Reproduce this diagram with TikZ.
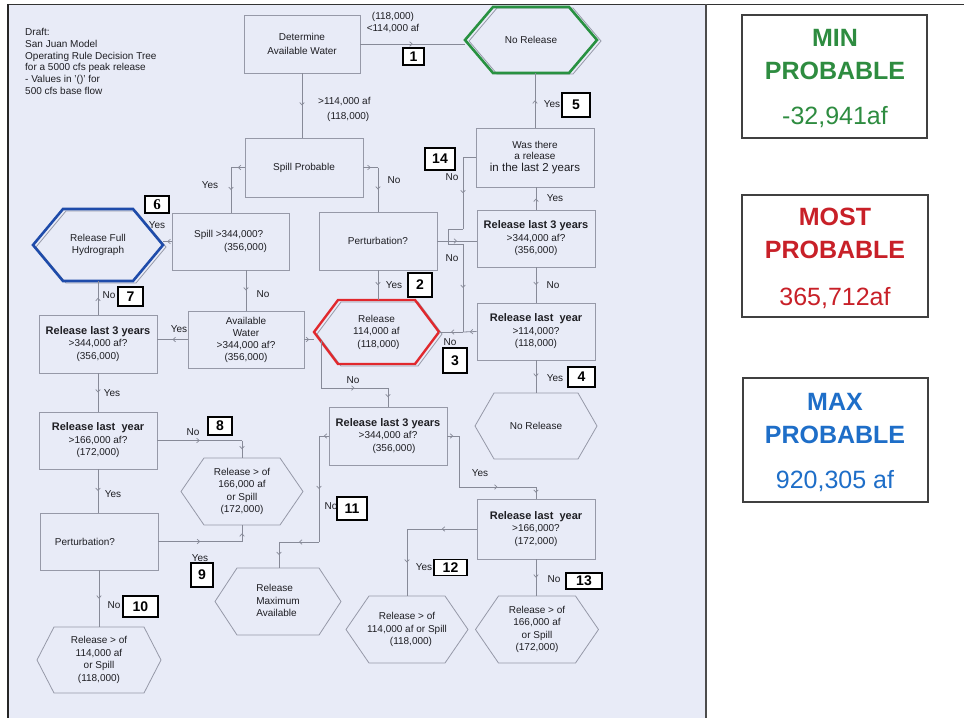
\documentclass[tikz,border=0pt]{standalone}
\usepackage{fontspec}
\setmainfont{Liberation Sans}
\newfontfamily\serifnum{Liberation Serif}
\usetikzlibrary{arrows.meta,decorations.markings}
\definecolor{bg}{RGB}{232,235,247}
\definecolor{bline}{RGB}{150,153,168}
\definecolor{cline}{RGB}{135,138,152}
\definecolor{ink}{RGB}{30,30,35}
\definecolor{hgreen}{RGB}{40,145,65}
\definecolor{hred}{RGB}{225,40,45}
\definecolor{hblue}{RGB}{30,75,170}
\definecolor{pgreen}{RGB}{46,140,64}
\definecolor{pred}{RGB}{200,32,40}
\definecolor{pblue}{RGB}{30,110,200}
\newcommand\hexpath[6]{\draw[#6] (#1-#3,#2) -- (#1-#3+#5,#2-#4) -- (#1+#3-#5,#2-#4) -- (#1+#3,#2) -- (#1+#3-#5,#2+#4) -- (#1-#3+#5,#2+#4) -- cycle;}
\newcommand\myhex[8]{%
  \coordinate (#1-w) at (#2-#4,#3);
  \coordinate (#1-e) at (#2+#4,#3);
  \coordinate (#1-n) at (#2,#3-#5);
  \coordinate (#1-s) at (#2,#3+#5);
  \hexpath{#2}{#3}{#4}{#5}{#6}{#7}
  \node[txt,align=center] (#1) at (#2,#3) {#8};}
\newcommand\bl[1]{{\bfseries\fontsize{11}{12.5}\selectfont #1}}
\tikzset{
  box/.style={draw=bline, line width=0.8pt, fill=bg, inner sep=0pt, align=center,
    font=\fontsize{10}{12.5}\selectfont, text=ink},
  txt/.style={inner sep=0pt, font=\fontsize{10}{12.5}\selectfont, text=ink},
  lbl/.style={inner sep=0pt, font=\fontsize{10}{11}\selectfont, text=ink},
  conn/.style={draw=cline, line width=0.8pt},
  mid/.style={postaction={decorate,decoration={markings,mark=at position 0.5 with
    {\arrow{Straight Barb[length=2.5pt,width=4.5pt,line width=0.7pt]}}}}},
  numbox/.style={draw=black, line width=1.1pt, fill=white, inner sep=0pt,
    font=\bfseries\fontsize{14}{14}\selectfont},
  hexg/.style={draw=bline, line width=0.8pt, fill=bg},
  hexsh/.style={draw=bline, line width=0.8pt},
  pbox/.style={draw=black!75, line width=1.1pt, fill=white},
  ptxt/.style={inner sep=0pt, anchor=base, font=\fontsize{25}{25}\selectfont},
}
\begin{document}
\begin{tikzpicture}[x=1pt,y=-1pt]
\useasboundingbox (0,0) rectangle (964,718);
\fill[white] (0,0) rectangle (964,718);
\fill[bg] (8,4) rectangle (706,718);
\draw[black!80, line width=1pt] (8,4) -- (964,4);
\draw[black!85, line width=2pt] (8,4) -- (8,718);
\draw[black!70, line width=1.3pt] (706,4) -- (706,718);

% title
\node[txt, anchor=north west, align=left, font=\fontsize{10}{11.8}\selectfont] (title) at (25,28)
 {Draft:\\San Juan Model\\Operating Rule Decision Tree\\for a 5000 cfs peak release\\- Values in '()' for\\500 cfs base flow};

% rectangles
\node[box, minimum width=116, minimum height=58, font=\fontsize{10}{14}\selectfont] (det) at (302,44) {Determine\\Available Water};
\node[box, minimum width=118, minimum height=59] (spillp) at (304,167.5) {Spill Probable};
\node[box, minimum width=117, minimum height=57, align=left] (sp344) at (230.5,241.5) {Spill >344,000?\\\hspace*{30pt}(356,000)};
\node[box, minimum width=118, minimum height=58] (pert1) at (378,241) {Perturbation?};
\node[box, minimum width=116, minimum height=57, font=\fontsize{10}{12}\selectfont] (avw) at (246,339.5) {Available\\Water\\>344,000 af?\\(356,000)};
\node[box, minimum width=118, minimum height=58] (l3y) at (98,344) {\bl{Release last 3 years}\\>344,000 af?\\(356,000)};
\node[box, minimum width=118, minimum height=57] (l1y) at (98,440.5) {\bl{Release last\ \ year}\\>166,000 af?\\(172,000)};
\node[box, minimum width=118, minimum height=57] (pert2) at (99,541.5) {};
\node[txt] (pert2t) at (85,542) {Perturbation?};
\node[box, minimum width=118, minimum height=58] (m3y) at (388,436) {\bl{Release last 3 years}\\>344,000 af?\\\hspace*{12pt}(356,000)};
\node[box, minimum width=118, minimum height=59, font=\fontsize{10}{11.5}\selectfont] (was) at (535,157.5) {Was there\\a release\\{\fontsize{11.5}{12}\selectfont in the last 2 years}};
\node[box, minimum width=118, minimum height=57] (r3y) at (536,238.5) {\bl{Release last 3 years}\\>344,000 af?\\(356,000)};
\node[box, minimum width=118, minimum height=57] (r1y) at (536,331.5) {\bl{Release last\ \ year}\\>114,000?\\(118,000)};
\node[box, minimum width=118, minimum height=60] (r166) at (536,529) {\bl{Release last\ \ year}\\>166,000?\\(172,000)};

% hexagons
\hexpath{531+4}{40+1}{66}{33}{28}{hexsh}
\myhex{nr1}{531}{40}{66}{33}{28}{draw=hgreen, line width=2.6pt}{No Release}
\hexpath{98+3}{245+2}{65}{36}{30}{hexsh}
\myhex{rfh}{98}{245}{65}{36}{30}{draw=hblue, line width=2.6pt}{Release Full\\Hydrograph}
\hexpath{376.5+3}{332+2}{62.5}{32}{24}{hexsh}
\myhex{rel}{376.5}{332}{62.5}{32}{24}{draw=hred, line width=2.4pt}{\fontsize{10}{14}\selectfont Release\\114,000 af\\\hspace*{4pt}(118,000)}
\myhex{nr2}{536}{426}{61}{33}{19}{hexg}{No Release}
\myhex{h166l}{242}{491.5}{61}{33.5}{23}{hexg}{Release > of\\166,000 af\\or Spill\\(172,000)}
\myhex{rmax}{278}{601.5}{63}{33.5}{22}{hexg}{\begin{tabular}{@{}l@{}}Release\\Maximum\\Available\end{tabular}}
\myhex{h114m}{407}{629.5}{61}{33.5}{23}{hexg}{Release > of\\114,000 af or Spill\\\hspace*{8pt}(118,000)}
\myhex{h166r}{537}{629.5}{61.5}{33.5}{23}{hexg}{Release > of\\166,000 af\\or Spill\\(172,000)}
\myhex{h114l}{99}{660}{62}{33}{17}{hexg}{Release > of\\114,000 af\\or Spill\\(118,000)}

% connectors
\draw[conn,mid] (det.east) -- (det.east -| nr1-w);
\draw[conn,mid] (det.south) -- (det.south |- spillp.north);
\coordinate (c3) at (231,167.5);
\draw[conn,mid] (spillp.west) -- (c3);
\draw[conn,mid] (c3) -- (c3 |- sp344.north);
\coordinate (c4) at (378,167.5);
\draw[conn,mid] (spillp.east) -- (c4);
\draw[conn,mid] (c4) -- (c4 |- pert1.north);
\draw[conn,mid] (sp344.west) -- (sp344.west -| rfh-e);
\draw[conn,mid] (avw.north |- sp344.south) -- (avw.north);
\draw[conn,mid] (avw.west) -- (avw.west -| l3y.east);
\draw[conn,mid] (avw.east) -- (avw.east -| rel-w);
\draw[conn,mid] (l3y.north) -- (l3y.north |- rfh-s);
\draw[conn,mid] (pert1.south) -- (pert1.south |- rel-n);
\draw[conn,mid] (pert1.east) -- (pert1.east -| r3y.west);
\coordinate (k1) at (463,157.5);
\coordinate (k2) at (463,229);
\coordinate (k3) at (448,229);
\coordinate (k4) at (448,244);
\coordinate (k5) at (463,244);
\coordinate (k6) at (463,332);
\draw[conn] (was.west) -- (k1);
\draw[conn,mid] (k1) -- (k2);
\draw[conn] (k2) -- (k3) -- (k4) -- (k5);
\draw[conn,mid] (k5) -- (k6);
\draw[conn,mid] (k6) -- (rel-e);
\draw[conn,mid] (r1y.west) -- (k6);
\draw[conn,mid] (was.north) -- (was.north |- nr1-s);
\draw[conn,mid] (r3y.north) -- (r3y.north |- was.south);
\draw[conn,mid] (r3y.south) -- (r3y.south |- r1y.north);
\draw[conn,mid] (r1y.south) -- (r1y.south |- nr2-n);
\coordinate (relx) at (321,341);
\coordinate (m1) at (321,388);
\coordinate (m2) at (388,388);
\draw[conn] (relx) -- (m1);
\draw[conn,mid] (m1) -- (m2);
\draw[conn,mid] (m2) -- (m3y.north);
\coordinate (n1) at (319,436);
\coordinate (n2) at (319,542);
\coordinate (n3) at (279,542);
\draw[conn,mid] (m3y.west) -- (n1);
\draw[conn,mid] (n1) -- (n2);
\draw[conn,mid] (n2) -- (n3);
\draw[conn,mid] (n3) -- (n3 |- rmax-n);
\coordinate (p1) at (459,436);
\coordinate (p2) at (459,487);
\coordinate (p3) at (536,487);
\draw[conn,mid] (m3y.east) -- (p1);
\draw[conn] (p1) -- (p2);
\draw[conn,mid] (p2) -- (p3);
\draw[conn,mid] (p3) -- (r166.north);
\draw[conn,mid] (r166.south) -- (r166.south |- h166r-n);
\coordinate (q1) at (407,529);
\draw[conn,mid] (r166.west) -- (q1);
\draw[conn,mid] (q1) -- (q1 |- h114m-n);
\draw[conn,mid] (l3y.south) -- (l1y.north);
\coordinate (s1) at (242,440.5);
\draw[conn,mid] (l1y.east) -- (s1);
\draw[conn,mid] (s1) -- (s1 |- h166l-n);
\draw[conn,mid] (l1y.south) -- (l1y.south |- pert2.north);
\coordinate (t1) at (242,541.5);
\draw[conn,mid] (pert2.east) -- (t1);
\draw[conn,mid] (t1) -- (t1 |- h166l-s);
\draw[conn,mid] (pert2.south) -- (pert2.south |- h114l-n);

% connector labels
\node[lbl] (la1) at (393,17) {(118,000)};
\node[lbl] (la2) at (393,29) {<114,000 af};
\node[lbl, anchor=west] (la3) at (318,102) {>114,000 af};
\node[lbl, anchor=west] (la4) at (327,117) {(118,000)};
\node[lbl] (y1) at (210,185) {Yes};
\node[lbl] (n1l) at (394,180) {No};
\node[lbl] (y2) at (157,225) {Yes};
\node[lbl] (n2l) at (263,294) {No};
\node[lbl] (y3) at (179,329) {Yes};
\node[lbl] (n3l) at (109,295) {No};
\node[lbl] (y4) at (394,285) {Yes};
\node[lbl] (n4l) at (452,258) {No};
\node[lbl] (n5l) at (452,177) {No};
\node[lbl] (n6l) at (450,342) {No};
\node[lbl] (y5) at (552,104) {Yes};
\node[lbl] (y6) at (555,198) {Yes};
\node[lbl] (n7l) at (553,285) {No};
\node[lbl] (y7) at (555,378) {Yes};
\node[lbl] (n8l) at (353,380) {No};
\node[lbl] (n9l) at (331,506) {No};
\node[lbl] (y8) at (480,473) {Yes};
\node[lbl] (n10l) at (554,579) {No};
\node[lbl] (y9) at (424,567) {Yes};
\node[lbl] (y10) at (112,393) {Yes};
\node[lbl] (n11l) at (193,432) {No};
\node[lbl] (y11) at (113,494) {Yes};
\node[lbl] (y12) at (200,558) {Yes};
\node[lbl] (n12l) at (114,605) {No};

% number boxes
\node[numbox, minimum width=21, minimum height=17] (b1) at (413.5,56.5) {1};
\node[numbox, minimum width=24, minimum height=24] (b2) at (420,285) {2};
\node[numbox, minimum width=24, minimum height=25] (b3) at (455,360.5) {3};
\node[numbox, minimum width=27, minimum height=20] (b4) at (581.5,377) {4};
\node[numbox, minimum width=28, minimum height=24] (b5) at (576,105) {5};
\node[numbox, minimum width=24, minimum height=17, font=\serifnum\bfseries\fontsize{15}{15}\selectfont] (b6) at (157,204.5) {6};
\node[numbox, minimum width=25, minimum height=19] (b7) at (130.5,296.5) {7};
\node[numbox, minimum width=24, minimum height=18] (b8) at (220,426) {8};
\node[numbox, minimum width=22, minimum height=24] (b9) at (202,575) {9};
\node[numbox, minimum width=35, minimum height=21] (b10) at (140.5,606.5) {10};
\node[numbox, minimum width=30, minimum height=23] (b11) at (352,508.5) {11};
\node[numbox, minimum width=33, minimum height=16] (b12) at (450.5,567.5) {12};
\node[numbox, minimum width=36, minimum height=16] (b13) at (584,581) {13};
\node[numbox, minimum width=30, minimum height=22] (b14) at (440,159) {14};

% right panel
\node[pbox, minimum width=185, minimum height=123] (minb) at (834.5,76.5) {};
\node[ptxt, text=pgreen, font=\bfseries\fontsize{25}{25}\selectfont] (mint1) at (835,46) {MIN};
\node[ptxt, text=pgreen, font=\bfseries\fontsize{25}{25}\selectfont] (mint2) at (835,79) {PROBABLE};
\node[ptxt, text=pgreen] (mint3) at (835,124) {-32,941af};
\node[pbox, minimum width=186, minimum height=122] (mostb) at (835,256) {};
\node[ptxt, text=pred, font=\bfseries\fontsize{25}{25}\selectfont] (most1) at (835,225) {MOST};
\node[ptxt, text=pred, font=\bfseries\fontsize{25}{25}\selectfont] (most2) at (835,258) {PROBABLE};
\node[ptxt, text=pred] (most3) at (835,305) {365,712af};
\node[pbox, minimum width=185, minimum height=124] (maxb) at (835.5,440) {};
\node[ptxt, text=pblue, font=\bfseries\fontsize{25}{25}\selectfont] (max1) at (835,410) {MAX};
\node[ptxt, text=pblue, font=\bfseries\fontsize{25}{25}\selectfont] (max2) at (835,443) {PROBABLE};
\node[ptxt, text=pblue] (max3) at (835,488) {920,305 af};
\end{tikzpicture}
\end{document}
